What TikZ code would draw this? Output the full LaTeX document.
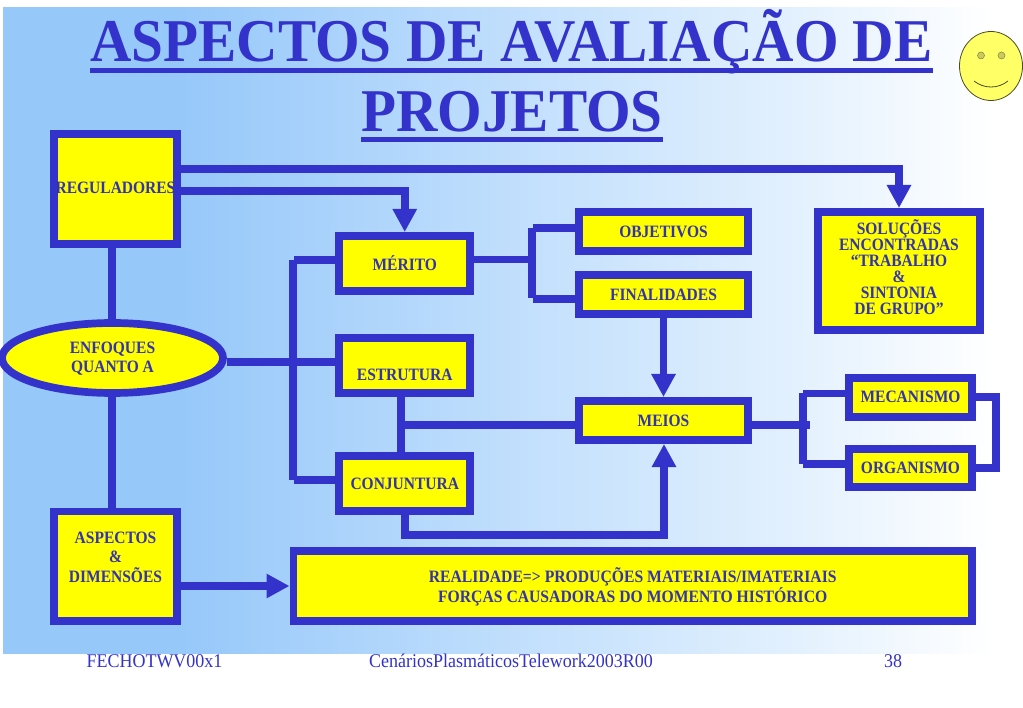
\documentclass[tikz,border=0pt]{standalone}
\usepackage{fontspec}
\setmainfont{Liberation Serif}
\usetikzlibrary{arrows.meta,shapes.geometric}
\definecolor{bluei}{HTML}{3333CC}
\definecolor{bluet}{HTML}{3333B0}
\definecolor{boxy}{rgb}{1,1,0}
\definecolor{facey}{HTML}{FFFF66}
\definecolor{eyec}{HTML}{CCCC52}
\definecolor{edgec}{HTML}{4A4A20}
\pgfdeclarehorizontalshading{bgshade}{100bp}{%
  rgb(0bp)=(.58,.78,.98);
  rgb(33.7bp)=(.59,.785,.98);
  rgb(49.4bp)=(.75,.87,.99);
  rgb(64bp)=(.89,.945,.995);
  rgb(73.5bp)=(1,1,1);
  rgb(100bp)=(1,1,1)}
\newcommand{\boxtext}[3][15]{\fontsize{15.5}{\dimexpr #1pt*100/112\relax}\selectfont\bfseries
  \raisebox{\dimexpr #2pt - 6.5pt\relax}[0pt][0pt]{\scalebox{1}[1.12]{\begin{tabular}{@{}c@{}}#3\end{tabular}}}}
\tikzset{
  x=1pt,y=-1pt,
  blockbox/.style={draw=bluei,fill=boxy,line width=7.7pt,inner sep=0pt,text=bluet,rectangle},
  wire/.style={draw=bluei,line width=7.7pt,line cap=butt,line join=miter},
  arrowwire/.style={wire,-{Triangle[width=23pt,length=23pt]}},
  titletext/.style={text=bluei,inner sep=0pt,anchor=base,font=\fontsize{57.3}{60}\selectfont\bfseries},
  rulewire/.style={draw=bluei,line width=5pt},
  foot/.style={text=bluei,inner sep=0pt,anchor=base,font=\fontsize{18}{20}\selectfont},
}
\begin{document}
\begin{tikzpicture}
\useasboundingbox (0,0) rectangle (1023,708);
\fill[white] (0,0) rectangle (1023,708);
\shade[shading=bgshade] (3,8) rectangle (1023,653);

% title
\node[titletext] (t1) at (511.5,62) {\scalebox{1}[1.06]{ASPECTOS DE AVALIAÇÃO DE}};
\node[titletext] (t2) at (512,132) {\scalebox{1}[1.06]{PROJETOS}};
\draw[rulewire] (t1.west |- 0,70.5) -- (t1.east |- 0,70.5);
\draw[rulewire] (t2.west |- 0,139.5) -- (t2.east |- 0,139.5);

% smiley
\node[ellipse,draw=edgec,fill=facey,line width=.8pt,minimum width=63pt,minimum height=69pt,inner sep=0pt] (face) at (991,66) {};
\node[circle,draw=edgec!70,fill=eyec,line width=.5pt,minimum size=7pt,inner sep=0pt] (eyeL) at (981,55.5) {};
\node[circle,draw=edgec!70,fill=eyec,line width=.5pt,minimum size=7pt,inner sep=0pt] (eyeR) at (1001.5,55.5) {};
\coordinate (smL) at (974,81);
\coordinate (smR) at (1008,81);
\draw[edgec,line width=.8pt] (smL) .. controls (984,89) and (998,89) .. (smR);

% boxes
\node[blockbox,minimum width=123.3pt,minimum height=109.9pt] (reg) at (115.5,188.8) {\boxtext{1}{REGULADORES}};
\node[blockbox,minimum width=123.3pt,minimum height=109.6pt] (asp) at (115.5,566.4) {\boxtext[19]{9.7}{ASPECTOS\\\&\\DIMENSÕES}};
\node[blockbox,minimum width=131pt,minimum height=55.3pt] (mer) at (404.75,263.5) {\boxtext{0.5}{MÉRITO}};
\node[blockbox,minimum width=131pt,minimum height=55.3pt] (est) at (404.75,365.5) {\boxtext{-9.5}{ESTRUTURA}};
\node[blockbox,minimum width=131pt,minimum height=55.3pt] (con) at (404.75,483.5) {\boxtext{0}{CONJUNTURA}};
\node[blockbox,minimum width=169.6pt,minimum height=39.3pt] (obj) at (663.5,231.5) {\boxtext{0}{OBJETIVOS}};
\node[blockbox,minimum width=169.6pt,minimum height=39.3pt] (fin) at (663.5,294.5) {\boxtext{0}{FINALIDADES}};
\node[blockbox,minimum width=169.6pt,minimum height=39.3pt] (mei) at (663.5,420.5) {\boxtext{0}{MEIOS}};
\node[blockbox,minimum width=123.3pt,minimum height=39.3pt] (mec) at (910.5,397.5) {\boxtext{1}{MECANISMO}};
\node[blockbox,minimum width=123.3pt,minimum height=38.3pt] (org) at (910.5,468) {\boxtext{0}{ORGANISMO}};
\node[blockbox,minimum width=162.3pt,minimum height=118.3pt] (sol) at (899,271) {\boxtext[15]{4.5}{SOLUÇÕES\\ENCONTRADAS\\“TRABALHO\\\&\\SINTONIA\\DE GRUPO”}};
\node[blockbox,minimum width=678.8pt,minimum height=70.3pt] (rea) at (632.75,586) {\boxtext[17.5]{0.5}{\scalebox{1.012}[1]{REALIDADE=> PRODUÇÕES MATERIAIS/IMATERIAIS}\\\scalebox{1.012}[1]{FORÇAS CAUSADORAS DO MOMENTO HISTÓRICO}}};
\node[blockbox,ellipse,minimum width=221pt,minimum height=70pt] (enf) at (112.5,358) {\boxtext[19]{1}{ENFOQUES\\QUANTO A}};

% named junction points
\coordinate (lt) at (293,260);
\coordinate (lb) at (293,480);
\coordinate (lth) at (293.5,260);
\coordinate (lbh) at (293.5,480);
\coordinate (mt) at (532,228);
\coordinate (mb) at (532,298);
\coordinate (mth) at (533,228);
\coordinate (mbh) at (533,299);
\coordinate (rt) at (803,393.5);
\coordinate (rb) at (803,464);
\coordinate (joint) at (401,424.7);
\coordinate (meiosend) at (810,424.7);
\coordinate (cbend) at (664,534.7);

% connectors
\draw[arrowwire] (reg.east |- 0,169) -| (sol.north);
\draw[arrowwire] (reg.east |- 0,191) -| (mer.north);
\draw[wire] (112,0 |- reg.south) -- (112,0 |- enf.north);
\draw[wire] (112,0 |- enf.south) -- (112,0 |- asp.north);
\draw[wire] (enf.east |- 0,362) -- (est.west |- 0,362);
\draw[wire] (lt) -- (lb);
\draw[wire] (mer.west |- lth) -- (lth);
\draw[wire] (con.west |- lbh) -- (lbh);
\draw[wire] (mer.east |- 0,259.5) -- (mt |- 0,259.5);
\draw[wire] (mt) -- (mb);
\draw[wire] (mth) -- (obj.west |- mth);
\draw[wire] (mbh) -- (fin.west |- mbh);
\draw[wire] (joint |- est.south) -- (joint |- con.north);
\draw[wire] (joint) -- (mei.west |- joint);
\draw[arrowwire] (con.south) |- (cbend) -- (cbend |- mei.south);
\draw[arrowwire] (fin.south) -- (mei.north);
\draw[wire] (mei.east |- meiosend) -- (meiosend);
\draw[wire] (rt) -- (rb);
\draw[wire] (rt) -- (mec.west |- rt);
\draw[wire] (rb) -- (org.west |- rb);
\draw[wire] (mec.east |- 0,397) -- (996,397) -- (996,468) -- (org.east |- 0,468);
\draw[arrowwire] (asp.east |- 0,586) -- (rea.west |- 0,586);

% footer
\node[foot] (f1) at (154.5,667) {\scalebox{1}[1.08]{FECHOTWV00x1}};
\node[foot] (f2) at (511,667) {\scalebox{1}[1.08]{CenáriosPlasmáticosTelework2003R00}};
\node[foot] (f3) at (893,667) {\scalebox{1}[1.08]{38}};
\end{tikzpicture}
\end{document}
